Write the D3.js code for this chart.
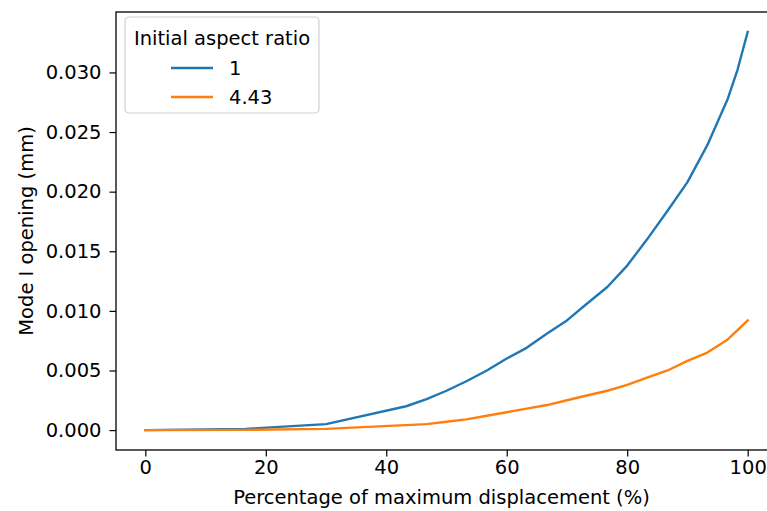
<!DOCTYPE html>
<html>
<head>
<meta charset="utf-8">
<script src="https://cdn.jsdelivr.net/npm/d3@7"></script>
<style>
  html, body { margin: 0; padding: 0; background: #fff; }
  svg { display: block; font-family: "DejaVu Sans", sans-serif; }
</style>
</head>
<body>
<svg id="chart" width="767" height="511"></svg>
<script>
// Percentage of maximum displacement at each sample
const xA = [0, 16.7, 30, 43.3, 46.7, 50, 53.3, 56.7, 60, 63.3, 66.7, 70, 73.3, 76.7, 80, 83.3, 86.7, 90, 93.3, 96.7, 98.3, 100];
// Mode I opening (mm), aspect ratio 1
const openingAR1 = [0, 0.0001, 0.0005, 0.0020, 0.0026, 0.0033, 0.0041, 0.0050, 0.0060, 0.0069, 0.0081, 0.0092, 0.0106, 0.0120, 0.0138, 0.0160, 0.0184, 0.0208, 0.0239, 0.0278, 0.0302, 0.0334];

const xB = [0, 16.7, 30, 46.7, 50, 53.3, 56.7, 60, 63.3, 66.7, 70, 73.3, 76.7, 80, 83.3, 86.7, 90, 93.3, 96.7, 100];
// Mode I opening (mm), aspect ratio 4.43
const openingAR443 = [0, 0.00002, 0.0001, 0.0005, 0.0007, 0.0009, 0.0012, 0.0015, 0.0018, 0.0021, 0.0025, 0.0029, 0.0033, 0.0038, 0.0044, 0.0050, 0.0058, 0.0065, 0.0076, 0.0092];

const seriesNames = ["1", "4.43"];
const seriesColors = ["#1f77b4", "#ff7f0e"];
const xTicks = [0, 20, 40, 60, 80, 100];
const yTicks = [0, 0.005, 0.010, 0.015, 0.020, 0.025, 0.030];

const series = [
  { name: seriesNames[0], color: seriesColors[0], pts: xA.map((x, i) => [x, openingAR1[i]]) },
  { name: seriesNames[1], color: seriesColors[1], pts: xB.map((x, i) => [x, openingAR443[i]]) }
];

const svg = d3.select("#chart");
const plotLeft = 116, plotTop = 12, plotBottom = 450;

// 5% padding on both axes, the right part of the frame runs past the canvas
const xPad = 5;
const x = d3.scaleLinear().domain([0 - xPad, 100 + xPad]).range([115.2, 777.8]);
const yMax = d3.max(openingAR1);
const yPad = yMax * 0.05;
const y = d3.scaleLinear().domain([-yPad, yMax + yPad]).range([plotBottom, plotTop]);

// lines
const line = d3.line().x(d => x(d[0])).y(d => y(d[1]));
svg.append("g").selectAll("path").data(series).join("path")
  .attr("d", d => line(d.pts))
  .attr("fill", "none")
  .attr("stroke", d => d.color)
  .attr("stroke-width", 2.4)
  .attr("stroke-linejoin", "round")
  .attr("stroke-linecap", "square");

// axes
const fs = 19.5;
const xAxis = svg.append("g").attr("transform", `translate(0,${plotBottom})`)
  .call(d3.axisBottom(x).tickValues(xTicks).tickFormat(d3.format("d")).tickSizeOuter(0).tickSize(6.5).tickPadding(4));
const yAxis = svg.append("g").attr("transform", `translate(${plotLeft},0)`)
  .call(d3.axisLeft(y).tickValues(yTicks).tickFormat(d3.format(".3f")).tickSizeOuter(0).tickSize(6.5).tickPadding(8));
[xAxis, yAxis].forEach(g => {
  g.select(".domain").remove();
  g.selectAll("line").attr("stroke", "#000").attr("stroke-width", 1.2);
  g.selectAll("text").attr("font-size", fs).attr("fill", "#000").attr("font-family", "DejaVu Sans");
});

// frame
svg.append("rect")
  .attr("x", plotLeft).attr("y", plotTop)
  .attr("width", x(105) - plotLeft).attr("height", plotBottom - plotTop)
  .attr("fill", "none").attr("stroke", "#000").attr("stroke-width", 1.3);

// axis titles
svg.append("text")
  .attr("x", (plotLeft + 767) / 2).attr("y", 504)
  .attr("text-anchor", "middle").attr("font-size", fs)
  .text("Percentage of maximum displacement (%)");
svg.append("text")
  .attr("transform", `translate(33,${(plotTop + plotBottom) / 2}) rotate(-90)`)
  .attr("text-anchor", "middle").attr("font-size", fs)
  .text("Mode I opening (mm)");

// legend
const lg = svg.append("g").attr("transform", "translate(125,17)");
lg.append("rect").attr("width", 194).attr("height", 96).attr("rx", 4)
  .attr("fill", "#fff").attr("fill-opacity", 0.8)
  .attr("stroke", "#d0d0d0").attr("stroke-width", 1.2);
lg.append("text").attr("x", 97).attr("y", 28).attr("text-anchor", "middle")
  .attr("font-size", fs).text("Initial aspect ratio");
const items = lg.selectAll("g.item").data(series).join("g")
  .attr("class", "item")
  .attr("transform", (d, i) => `translate(0,${51 + i * 29})`);
items.append("line").attr("x1", 46).attr("x2", 88)
  .attr("stroke", d => d.color).attr("stroke-width", 2.4);
items.append("text").attr("x", 104).attr("y", 7).attr("font-size", fs)
  .text(d => d.name);
</script>
</body>
</html>
